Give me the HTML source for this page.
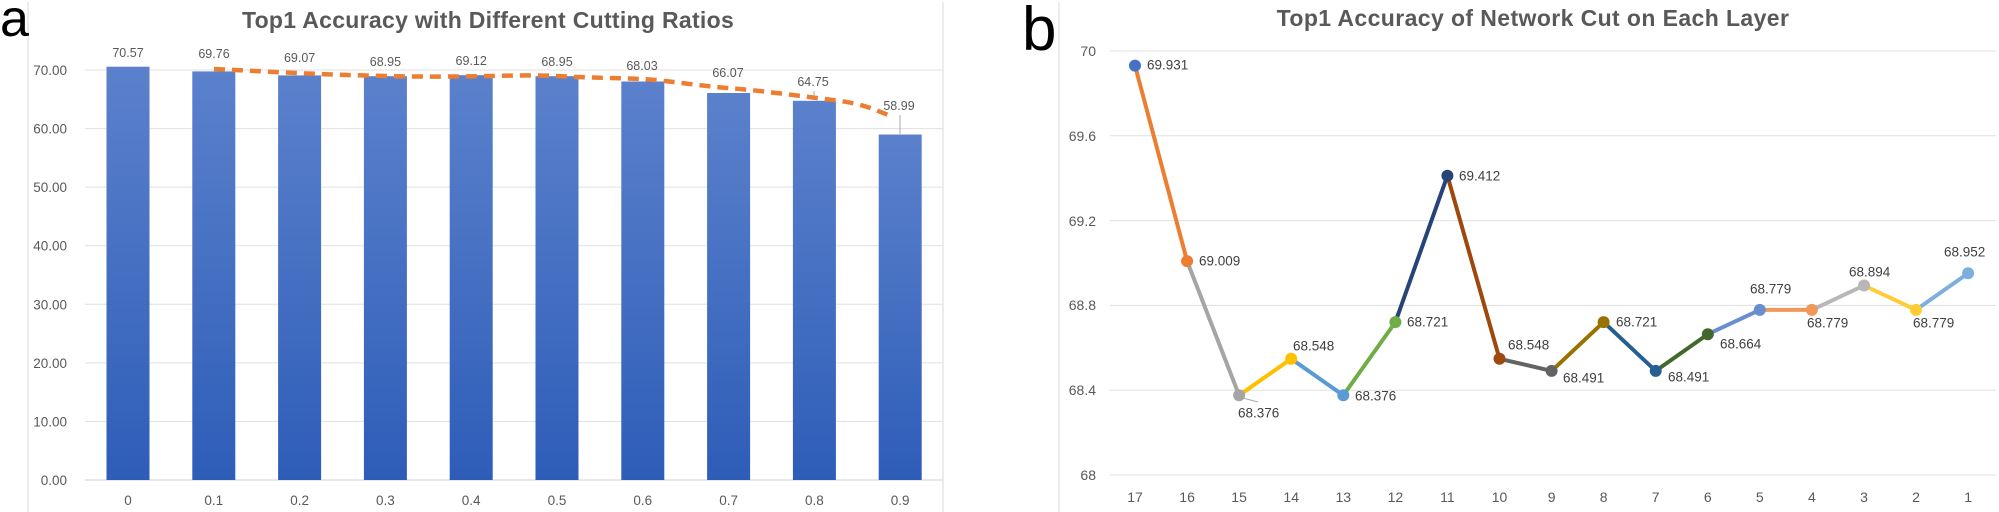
<!DOCTYPE html>
<html><head><meta charset="utf-8"><style>
html,body{margin:0;padding:0;background:#fff;}
svg{display:block;font-family:"Liberation Sans",sans-serif;}
</style></head><body>
<svg width="1999" height="512" viewBox="0 0 1999 512" xmlns="http://www.w3.org/2000/svg">
<defs>
<linearGradient id="bg" x1="0" y1="0" x2="0" y2="1">
<stop offset="0" stop-color="#5B81CC"/><stop offset="1" stop-color="#2E5DB8"/>
</linearGradient>
</defs>
<!-- Chart a -->
<line x1="28" y1="2" x2="28" y2="512" stroke="#d9d9d9"/>
<line x1="943" y1="2" x2="943" y2="512" stroke="#d9d9d9"/>
<text x="0" y="36" font-size="52" fill="#000">a</text>
<text x="488" y="28" font-size="23" font-weight="bold" fill="#595959" text-anchor="middle" letter-spacing="0.3">Top1 Accuracy with Different Cutting Ratios</text>
<g stroke="#e0e0e0" stroke-width="1">
<line x1="85" y1="70" x2="943" y2="70"/><line x1="85" y1="128.6" x2="943" y2="128.6"/>
<line x1="85" y1="187.1" x2="943" y2="187.1"/><line x1="85" y1="245.7" x2="943" y2="245.7"/>
<line x1="85" y1="304.3" x2="943" y2="304.3"/><line x1="85" y1="362.9" x2="943" y2="362.9"/>
<line x1="85" y1="421.4" x2="943" y2="421.4"/>
</g>
<line x1="85" y1="480" x2="943" y2="480" stroke="#d0d0d0"/>
<g font-size="13.5" fill="#595959" text-anchor="end">
<text x="67" y="75">70.00</text><text x="67" y="133.6">60.00</text><text x="67" y="192.1">50.00</text>
<text x="67" y="250.7">40.00</text><text x="67" y="309.3">30.00</text><text x="67" y="367.9">20.00</text>
<text x="67" y="426.4">10.00</text><text x="67" y="485">0.00</text>
</g>
<g fill="url(#bg)">
<rect x="106.5" y="66.7" width="43" height="413.3"/>
<rect x="192.3" y="71.4" width="43" height="408.6"/>
<rect x="278.1" y="75.4" width="43" height="404.6"/>
<rect x="363.9" y="76.2" width="43" height="403.8"/>
<rect x="449.7" y="75.2" width="43" height="404.8"/>
<rect x="535.5" y="76.2" width="43" height="403.8"/>
<rect x="621.3" y="81.5" width="43" height="398.5"/>
<rect x="707.1" y="93.0" width="43" height="387"/>
<rect x="792.9" y="100.8" width="43" height="379.2"/>
<rect x="878.7" y="134.5" width="43" height="345.5"/>
</g>
<line x1="900" y1="115" x2="900" y2="134" stroke="#aaa"/>
<line x1="814" y1="91" x2="814" y2="100" stroke="#aaa"/>
<path d="M214,69 C260,71 300,74 385,76 S520,74 557,76 S620,78 642,79 S700,86 728,88 S800,96 833,100 S875,110 893,117" fill="none" stroke="#ED7D31" stroke-width="4.5" stroke-dasharray="11,7"/>
<g font-size="12.5" fill="#595959" text-anchor="middle">
<text x="128" y="57">70.57</text><text x="214" y="58">69.76</text><text x="299.6" y="62">69.07</text>
<text x="385.4" y="66">68.95</text><text x="471.2" y="65">69.12</text><text x="557" y="66">68.95</text>
<text x="642" y="70">68.03</text><text x="728" y="77">66.07</text><text x="813" y="86">64.75</text>
<text x="899" y="110">58.99</text>
</g>
<g font-size="13.5" fill="#595959" text-anchor="middle">
<text x="128" y="505">0</text><text x="213.8" y="505">0.1</text><text x="299.6" y="505">0.2</text>
<text x="385.4" y="505">0.3</text><text x="471.2" y="505">0.4</text><text x="557" y="505">0.5</text>
<text x="642.8" y="505">0.6</text><text x="728.6" y="505">0.7</text><text x="814.4" y="505">0.8</text>
<text x="900.2" y="505">0.9</text>
</g>
<!-- Chart b -->
<line x1="1059" y1="2" x2="1059" y2="512" stroke="#d9d9d9"/>
<text x="1022" y="50" font-size="62" fill="#000">b</text>
<text x="1533" y="26" font-size="23" font-weight="bold" fill="#595959" text-anchor="middle" letter-spacing="0.4">Top1 Accuracy of Network Cut on Each Layer</text>
<g stroke="#e0e0e0" stroke-width="1">
<line x1="1110" y1="51" x2="1996" y2="51"/><line x1="1110" y1="135.8" x2="1996" y2="135.8"/>
<line x1="1110" y1="220.6" x2="1996" y2="220.6"/><line x1="1110" y1="305.4" x2="1996" y2="305.4"/>
<line x1="1110" y1="390.2" x2="1996" y2="390.2"/><line x1="1110" y1="475" x2="1996" y2="475"/>
</g>
<g font-size="14" fill="#595959" text-anchor="end">
<text x="1096" y="56">70</text><text x="1096" y="141">69.6</text><text x="1096" y="226">69.2</text>
<text x="1096" y="310">68.8</text><text x="1096" y="395">68.4</text><text x="1096" y="480">68</text>
</g>
<g stroke-width="4" fill="none" stroke-linecap="round">
<line x1="1135" y1="65.6" x2="1187.1" y2="261.1" stroke="#ED7D31"/>
<line x1="1187.1" y1="261.1" x2="1239.1" y2="395.3" stroke="#A5A5A5"/>
<line x1="1239.1" y1="395.3" x2="1291.2" y2="358.8" stroke="#FFC000"/>
<line x1="1291.2" y1="358.8" x2="1343.3" y2="395.3" stroke="#5B9BD5"/>
<line x1="1343.3" y1="395.3" x2="1395.4" y2="322.1" stroke="#70AD47"/>
<line x1="1395.4" y1="322.1" x2="1447.4" y2="175.7" stroke="#264478"/>
<line x1="1447.4" y1="175.7" x2="1499.5" y2="358.8" stroke="#9E480E"/>
<line x1="1499.5" y1="358.8" x2="1551.6" y2="370.9" stroke="#636363"/>
<line x1="1551.6" y1="370.9" x2="1603.6" y2="322.1" stroke="#997300"/>
<line x1="1603.6" y1="322.1" x2="1655.7" y2="370.9" stroke="#255E91"/>
<line x1="1655.7" y1="370.9" x2="1707.8" y2="334.2" stroke="#43682B"/>
<line x1="1707.8" y1="334.2" x2="1759.8" y2="309.9" stroke="#698ED0"/>
<line x1="1759.8" y1="309.9" x2="1811.9" y2="309.9" stroke="#F1975A"/>
<line x1="1811.9" y1="309.9" x2="1864" y2="285.5" stroke="#B7B7B7"/>
<line x1="1864" y1="285.5" x2="1916" y2="309.9" stroke="#FFCD33"/>
<line x1="1916" y1="309.9" x2="1968.1" y2="273.2" stroke="#7CAFDD"/>
</g>
<g>
<circle cx="1135" cy="65.6" r="6" fill="#4472C4"/>
<circle cx="1187.1" cy="261.1" r="6" fill="#ED7D31"/>
<circle cx="1239.1" cy="395.3" r="6" fill="#A5A5A5"/>
<circle cx="1291.2" cy="358.8" r="6" fill="#FFC000"/>
<circle cx="1343.3" cy="395.3" r="6" fill="#5B9BD5"/>
<circle cx="1395.4" cy="322.1" r="6" fill="#70AD47"/>
<circle cx="1447.4" cy="175.7" r="6" fill="#264478"/>
<circle cx="1499.5" cy="358.8" r="6" fill="#9E480E"/>
<circle cx="1551.6" cy="370.9" r="6" fill="#636363"/>
<circle cx="1603.6" cy="322.1" r="6" fill="#997300"/>
<circle cx="1655.7" cy="370.9" r="6" fill="#255E91"/>
<circle cx="1707.8" cy="334.2" r="6" fill="#43682B"/>
<circle cx="1759.8" cy="309.9" r="6" fill="#698ED0"/>
<circle cx="1811.9" cy="309.9" r="6" fill="#F1975A"/>
<circle cx="1864" cy="285.5" r="6" fill="#B7B7B7"/>
<circle cx="1916" cy="309.9" r="6" fill="#FFCD33"/>
<circle cx="1968.1" cy="273.2" r="6" fill="#7CAFDD"/>
</g>
<line x1="1243" y1="398" x2="1258" y2="402" stroke="#aaa"/>
<g font-size="13.5" fill="#404040" dominant-baseline="middle">
<text x="1147" y="66">69.931</text><text x="1199" y="262">69.009</text><text x="1238" y="414">68.376</text>
<text x="1293" y="347">68.548</text><text x="1355" y="397">68.376</text><text x="1407" y="323">68.721</text>
<text x="1459" y="177">69.412</text><text x="1508" y="346">68.548</text><text x="1563" y="379">68.491</text>
<text x="1616" y="323">68.721</text><text x="1668" y="378">68.491</text><text x="1720" y="345">68.664</text>
<text x="1750" y="290">68.779</text><text x="1807" y="324">68.779</text><text x="1849" y="273">68.894</text>
<text x="1913" y="324">68.779</text><text x="1944" y="253">68.952</text>
</g>
<g font-size="14" fill="#595959" text-anchor="middle">
<text x="1135" y="502">17</text><text x="1187.1" y="502">16</text><text x="1239.1" y="502">15</text>
<text x="1291.2" y="502">14</text><text x="1343.3" y="502">13</text><text x="1395.4" y="502">12</text>
<text x="1447.4" y="502">11</text><text x="1499.5" y="502">10</text><text x="1551.6" y="502">9</text>
<text x="1603.6" y="502">8</text><text x="1655.7" y="502">7</text><text x="1707.8" y="502">6</text>
<text x="1759.8" y="502">5</text><text x="1811.9" y="502">4</text><text x="1864" y="502">3</text>
<text x="1916" y="502">2</text><text x="1968.1" y="502">1</text>
</g>
</svg>
</body></html>
